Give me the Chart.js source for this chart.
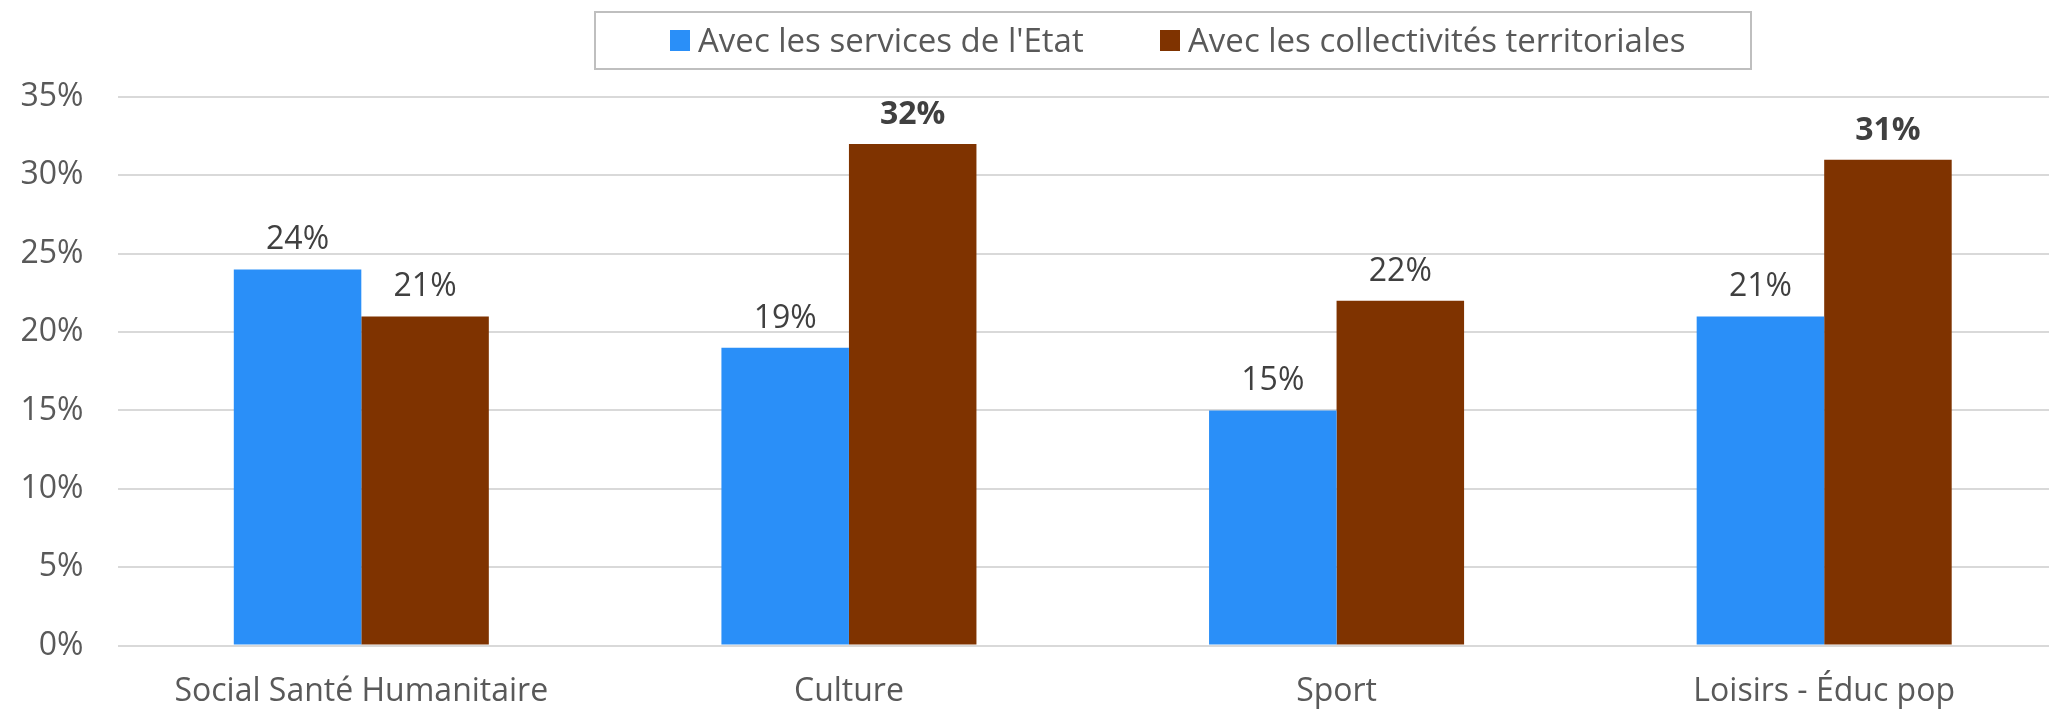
<!DOCTYPE html>
<html>
<head>
<meta charset="utf-8">
<script src="https://cdn.jsdelivr.net/npm/chart.js@4/dist/chart.umd.min.js"></script>
<style>
  html, body { margin: 0; padding: 0; background: #fff; overflow: hidden; }
  #wrap { width: 2068px; height: 711px; }
</style>
</head>
<body>
<div id="wrap"><canvas id="chart"></canvas></div>
<script>
const categories = ['Social Santé Humanitaire', 'Culture', 'Sport', 'Loisirs - Éduc pop'];
const etat = [0.24, 0.19, 0.15, 0.21];
const collectivites = [0.21, 0.32, 0.22, 0.31];
const boldEtat = [false, false, false, false];
const boldCollectivites = [false, true, false, true];
const yTicks = [0, 0.05, 0.10, 0.15, 0.20, 0.25, 0.30, 0.35];

const FONT = "'Open Sans', sans-serif";

// data labels above the bars
const barLabels = {
  id: 'barLabels',
  afterDatasetsDraw(chart) {
    const ctx = chart.ctx;
    ctx.save();
    ctx.textAlign = 'center';
    ctx.textBaseline = 'alphabetic';
    ctx.fillStyle = '#404040';
    chart.data.datasets.forEach((ds, i) => {
      chart.getDatasetMeta(i).data.forEach((bar, j) => {
        ctx.font = (ds.bold[j] ? 'bold ' : '') + '32px ' + FONT;
        ctx.fillText(Math.round(ds.data[j] * 100) + '%', bar.x, bar.y - 20);
      });
    });
    ctx.restore();
  }
};

// boxed legend like the original
const boxLegend = {
  id: 'boxLegend',
  afterDraw(chart) {
    const ctx = chart.ctx;
    ctx.save();
    ctx.strokeStyle = '#bfbfbf';
    ctx.lineWidth = 2;
    ctx.strokeRect(595, 12, 1156, 57);
    ctx.font = '33px ' + FONT;
    ctx.textBaseline = 'alphabetic';
    ctx.textAlign = 'left';
    const starts = [670, 1160];
    chart.data.datasets.forEach((ds, i) => {
      ctx.fillStyle = ds.backgroundColor;
      ctx.fillRect(starts[i], 30, 20, 21);
      ctx.fillStyle = '#595959';
      ctx.fillText(ds.label, starts[i] + 28, 52);
    });
    ctx.restore();
  }
};

new Chart(document.getElementById('chart'), {
  type: 'bar',
  data: {
    labels: categories,
    datasets: [
      { label: "Avec les services de l'Etat", data: etat, bold: boldEtat, backgroundColor: '#2a8ff8' },
      { label: 'Avec les collectivités territoriales', data: collectivites, bold: boldCollectivites, backgroundColor: '#7f3300' }
    ]
  },
  options: {
    responsive: true,
    maintainAspectRatio: false,
    animation: false,
    layout: { padding: { top: 97, right: 0, left: 0, bottom: 0 } },
    datasets: { bar: { categoryPercentage: 0.523, barPercentage: 1.0 } },
    scales: {
      x: {
        grid: { display: false },
        border: { display: false },
        ticks: { color: '#595959', font: { family: FONT, size: 32 }, padding: 19, maxRotation: 0 },
        afterFit(scale) { scale.height = 65.5; }
      },
      y: {
        min: 0,
        max: 0.35,
        afterBuildTicks(scale) { scale.ticks = yTicks.map(v => ({ value: v })); },
        grid: { color: '#d9d9d9', lineWidth: 2, drawTicks: false },
        border: { display: false },
        ticks: {
          color: '#595959',
          font: { family: FONT, size: 32 },
          padding: 34,
          callback: v => Math.round(v * 100) + '%'
        },
        afterFit(scale) { scale.width = 117.5; }
      }
    },
    plugins: {
      legend: { display: false },
      tooltip: { enabled: false }
    }
  },
  plugins: [barLabels, boxLegend]
});
</script>
</body>
</html>
